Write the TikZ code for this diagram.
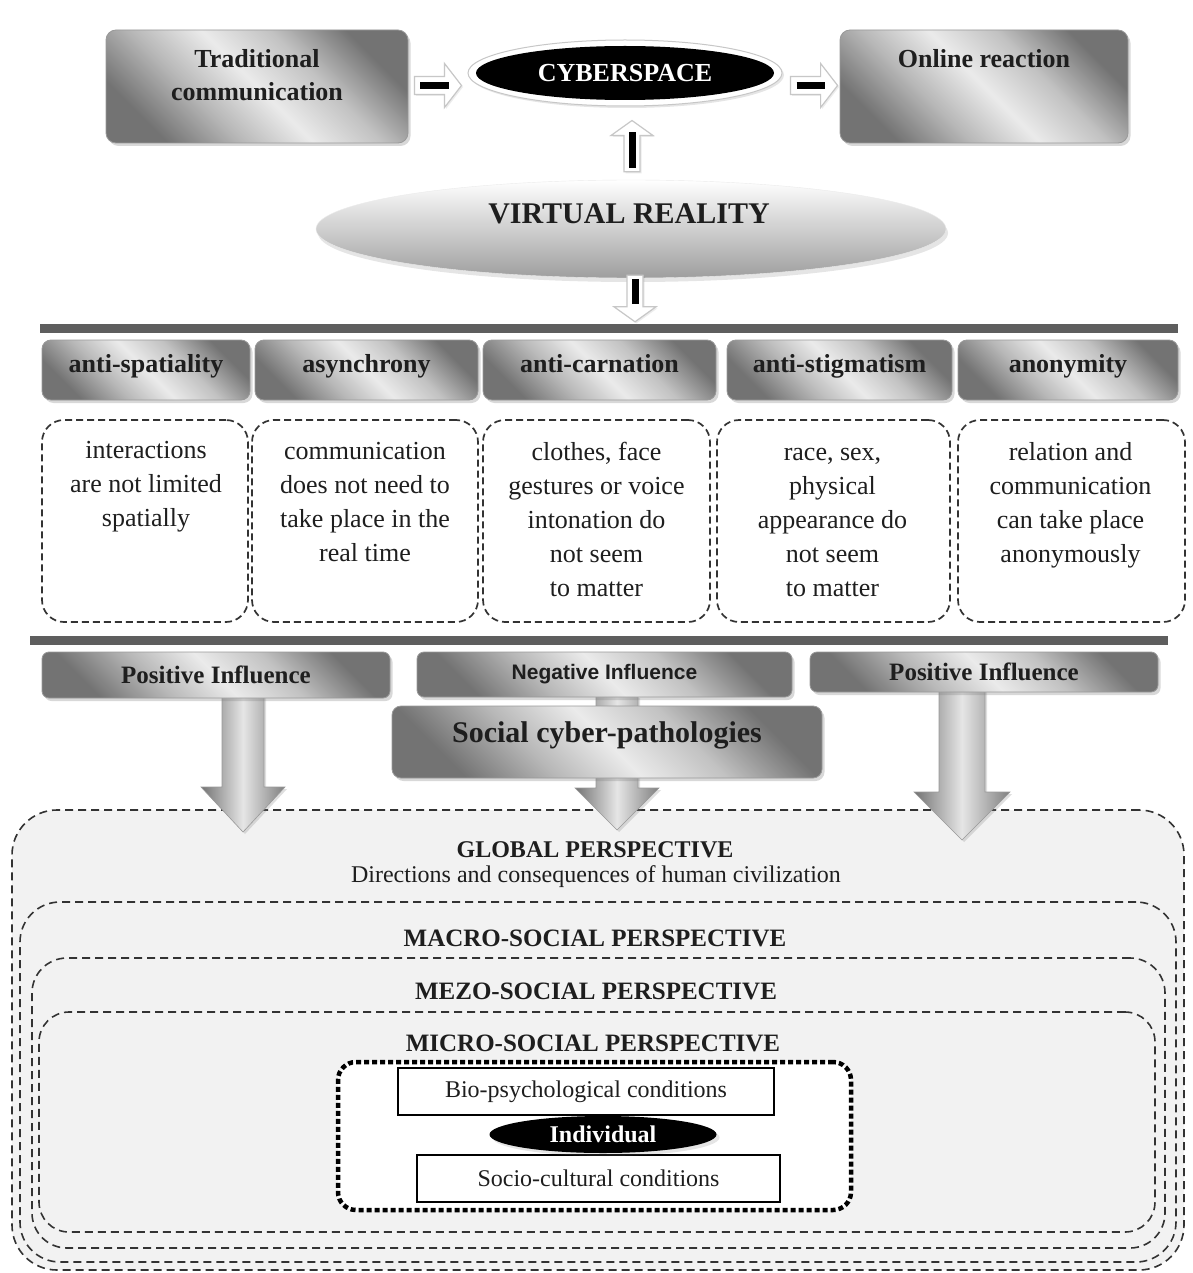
\documentclass[tikz,border=0pt]{standalone}
\usepackage{fontspec}
\setmainfont{Liberation Serif}
\newfontfamily\sansfam{Liberation Sans}
\usetikzlibrary{shapes.geometric,shadows,calc}
\definecolor{txt}{HTML}{1E1E1E}
\definecolor{barc}{HTML}{5E5E5E}
\definecolor{panel}{HTML}{F2F2F2}
\definecolor{dashc}{HTML}{333333}
\pgfdeclareverticalshading{metal}{100bp}{color(0bp)=(black!55); color(25bp)=(black!55); color(38bp)=(black!28); color(50bp)=(black!8); color(62bp)=(black!24); color(75bp)=(black!55); color(100bp)=(black!55)}
\newcommand{\myfs}[1]{\fontsize{#1}{#1}\selectfont}
\tikzset{
  metalbox/.style={draw=black!40, line width=0.8pt, rounded corners=10pt, shading=metal, shading angle=-45,
     drop shadow={shadow xshift=2.5pt, shadow yshift=-3pt, opacity=0.3}},
  hdbox/.style={metalbox, rounded corners=9pt, minimum height=60pt, font=\myfs{26}\bfseries, text height=14pt, text depth=10pt},
  dbox/.style={draw=dashc, dash pattern=on 7pt off 4pt, line width=1.7pt, rounded corners=22pt, fill=white, minimum height=202pt},
  dtext/.style={align=center, font=\fontsize{26}{34}\selectfont, anchor=north},
  persp/.style={draw=dashc, dash pattern=on 8pt off 5pt, line width=1.6pt, fill=panel},
  ptitle/.style={font=\myfs{25}\bfseries},
  bigarrow/.style={left color=black!55, right color=black!50, middle color=black!10, draw=black!40, line width=0.6pt,
     drop shadow={shadow xshift=2pt, shadow yshift=-2pt, opacity=0.25}},
  hollow/.style={fill=white, draw=black!22, line width=1.2pt, drop shadow={shadow xshift=1.5pt, shadow yshift=-1.5pt, opacity=0.15}},
  vblock/.style n args={3}{to path={($(\tikztostart)+(-#1,0)$) -- ($(\tikztotarget)+(-#1,#3)$) -- ($(\tikztotarget)+(-#2,#3)$) -- (\tikztotarget) -- ($(\tikztotarget)+(#2,#3)$) -- ($(\tikztotarget)+(#1,#3)$) -- ($(\tikztostart)+(#1,0)$) -- cycle}},
  hblock/.style n args={3}{to path={($(\tikztostart)+(0,#1)$) -- ($(\tikztotarget)+(-#3,#1)$) -- ($(\tikztotarget)+(-#3,#2)$) -- (\tikztotarget) -- ($(\tikztotarget)+(-#3,-#2)$) -- ($(\tikztotarget)+(-#3,-#1)$) -- ($(\tikztostart)+(0,-#1)$) -- cycle}},
}
\begin{document}
\begin{tikzpicture}[x=1pt, y=1pt, every node/.style={inner sep=0pt, text=txt}]
\useasboundingbox (0,0) rectangle (1192,-1273);
\fill[white] (0,0) rectangle (1192,-1273);

% ---------- top row ----------
\node[metalbox, minimum width=302pt, minimum height=113pt] (trad) at (257,-86.5) {};
\node[anchor=north, align=center, font=\fontsize{26}{33}\selectfont\bfseries] (tradtxt) at (257,-49) {Traditional\\communication};
\node[metalbox, minimum width=288pt, minimum height=113pt] (online) at (984,-86.5) {};
\node[anchor=north, font=\myfs{26}\bfseries] (onlinetxt) at (984,-49) {Online reaction};

\node[ellipse, fill=white, draw=black!22, line width=1pt, minimum width=314pt, minimum height=66pt,
      drop shadow={shadow xshift=2pt, shadow yshift=-2pt, opacity=0.2}] (cyberring) at (625,-73) {};
\node[ellipse, fill=black, minimum width=298pt, minimum height=54pt, text=white, font=\myfs{26}\bfseries] (cyber) at (625,-73) {CYBERSPACE};

\node[ellipse, top color=white, bottom color=black!38, draw=black!8, minimum width=630pt, minimum height=98pt,
      drop shadow={shadow xshift=2pt, shadow yshift=-4pt, opacity=0.2}] (vr) at (631,-229) {};
\node[font=\myfs{30}\bfseries] (vrtxt) at (629,-214) {VIRTUAL REALITY};

% small hollow arrows
\coordinate (a1s) at ($(trad.east)+(6,1)$);
\coordinate (a1e) at ($(cyberring.west |- a1s)+(-6,0)$);
\path[hollow, hblock={9}{22}{17}] (a1s) to (a1e);
\draw[line width=7pt] ($(a1s)+(6,0)$) -- ($(a1e)+(-13,0)$);

\coordinate (a2s) at ($(cyberring.east |- a1s)+(8,0)$);
\coordinate (a2e) at ($(online.west |- a1s)+(-2,0)$);
\path[hollow, hblock={9}{22}{17}] (a2s) to (a2e);
\draw[line width=7pt] ($(a2s)+(6,0)$) -- ($(a2e)+(-13,0)$);

\coordinate (a3s) at ($(vr.north)+(1,8)$);
\coordinate (a3e) at ($(a3s |- cyberring.south)+(0,-14)$);
\path[hollow, vblock={8}{21}{-15}] (a3s) to (a3e);
\draw[line width=7pt] ($(a3s)+(0,4)$) -- ($(a3e)+(0,-12)$);

% ---------- bar 1 ----------
\node[fill=barc, minimum width=1138pt, minimum height=9pt] (bar1) at (609,-328.5) {};
\coordinate (a4s) at ($(vr.south)+(4,3)$);
\coordinate (a4e) at ($(a4s |- bar1.north)+(0,2)$);
\path[hollow, vblock={8}{21}{15}] (a4s) to (a4e);
\draw[line width=7pt] ($(a4s)+(0,-4)$) -- ($(a4e)+(0,18)$);

% ---------- features ----------
\node[hdbox, minimum width=208pt] (h1) at (146,-370) {anti-spatiality};
\node[hdbox, minimum width=223pt] (h2) at (366.5,-370) {asynchrony};
\node[hdbox, minimum width=233pt] (h3) at (599.5,-370) {anti-carnation};
\node[hdbox, minimum width=225pt] (h4) at (839.5,-370) {anti-stigmatism};
\node[hdbox, minimum width=220pt] (h5) at (1068,-370) {anonymity};

\node[dbox, minimum width=206pt] (d1) at (145,-521) {};
\node[dbox, minimum width=226pt] (d2) at (365,-521) {};
\node[dbox, minimum width=227pt] (d3) at (596.5,-521) {};
\node[dbox, minimum width=233pt] (d4) at (833.5,-521) {};
\node[dbox, minimum width=227pt] (d5) at (1071.5,-521) {};

\node[dtext] (t1) at ($(d1.north)+(1,-22)$) {interactions\\are not limited\\spatially};
\node[dtext] (t2) at ($(d2.north)+(0,-23)$) {communication\\does not need to\\take place in the\\real time};
\node[dtext] (t3) at ($(d3.north)+(0,-23)$) {clothes, face\\gestures or voice\\intonation do\\not seem\\to matter};
\node[dtext] (t4) at ($(d4.north)+(-1,-29)$) {race, sex,\\physical\\appearance do\\not seem\\to matter};
\node[dtext] (t5) at ($(d5.north)+(-1,-23)$) {relation and\\communication\\can take place\\anonymously};

% ---------- bar 2 ----------
\node[fill=barc, minimum width=1138pt, minimum height=9pt] (bar2) at (599,-640.5) {};

% ---------- perspectives ----------
\node[persp, rounded corners=45pt, minimum width=1172pt, minimum height=460pt] (global) at (598,-1040) {};
\node[persp, rounded corners=40pt, minimum width=1156pt, minimum height=360pt] (macro) at (598,-1082) {};
\node[persp, rounded corners=35pt, minimum width=1133pt, minimum height=290pt] (mezo) at (598.5,-1103) {};
\node[persp, rounded corners=30pt, minimum width=1116pt, minimum height=220pt] (micro) at (597,-1122) {};

\node[font=\myfs{24}\bfseries] (globaltxt) at (595,-850) {GLOBAL PERSPECTIVE};
\node[font=\myfs{24}] (globalsub) at (596,-877) {Directions and consequences of human civilization};
\node[ptitle] (macrotxt) at (595,-938) {MACRO-SOCIAL PERSPECTIVE};
\node[ptitle] (mezotxt) at (596,-991) {MEZO-SOCIAL PERSPECTIVE};
\node[ptitle] (microtxt) at (593,-1043) {MICRO-SOCIAL PERSPECTIVE};

\node[draw=black, fill=white, line width=4.5pt, dash pattern=on 5pt off 3pt, rounded corners=18pt,
      minimum width=513pt, minimum height=148pt] (indbox) at (594.5,-1136) {};
\node[draw=black, fill=white, line width=1.5pt, minimum width=376pt, minimum height=47pt, font=\myfs{24}] (bio) at (586,-1091.5) {Bio-psychological conditions};
\node[draw=black, fill=white, line width=1.5pt, minimum width=363pt, minimum height=47pt, font=\myfs{24}] (socio) at (598.5,-1178.5) {Socio-cultural conditions};
\node[ellipse, fill=black, minimum width=227pt, minimum height=37pt, text=white, font=\myfs{24}\bfseries,
      drop shadow={shadow xshift=3pt, shadow yshift=-3pt, opacity=0.2}] (indiv) at (603,-1134.5) {Individual};

% ---------- influence arrows ----------
\coordinate (b1s) at (243,-696);
\coordinate (b1e) at (243,-832);
\path[bigarrow, vblock={21}{42}{45}] (b1s) to (b1e);
\coordinate (b2s) at (617,-696);
\coordinate (b2e) at (617,-830);
\path[bigarrow, vblock={21}{42}{42}] (b2s) to (b2e);
\coordinate (b3s) at (962,-690);
\coordinate (b3e) at (962,-840);
\path[bigarrow, vblock={23}{48}{48}] (b3s) to (b3e);

\node[metalbox, rounded corners=7pt, minimum width=348pt, minimum height=46pt, font=\myfs{25}\bfseries] (posl) at (216,-675) {Positive Influence};
\node[metalbox, rounded corners=7pt, minimum width=375pt, minimum height=45pt, font=\sansfam\myfs{21}\bfseries] (neg) at (604.5,-674.5) {Negative Influence};
\node[metalbox, rounded corners=7pt, minimum width=348pt, minimum height=40pt, font=\myfs{25}\bfseries] (posr) at (984,-672) {Positive Influence};
\node[metalbox, rounded corners=9pt, minimum width=430pt, minimum height=72pt] (social) at (607,-742) {};
\node[font=\myfs{30}\bfseries] (socialtxt) at (607,-735) {Social cyber-pathologies};
\end{tikzpicture}
\end{document}
